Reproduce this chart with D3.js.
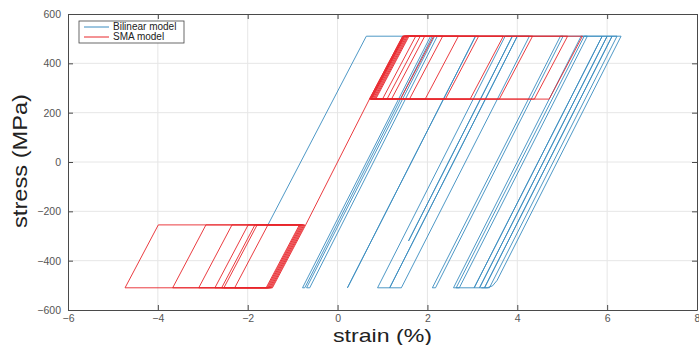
<!DOCTYPE html>
<html>
<head>
<meta charset="utf-8">
<script src="https://cdn.jsdelivr.net/npm/d3@7"></script>
<style>
  html, body { margin: 0; padding: 0; background: #ffffff; }
  svg { display: block; }
</style>
</head>
<body>
<svg id="chart" width="699" height="345"></svg>
<script>
// ---------- data ----------
const xTicks = [-6, -4, -2, 0, 2, 4, 6, 8];
const yTicks = [-600, -400, -200, 0, 200, 400, 600];
const seriesNames = ["Bilinear model", "SMA model"];
const seriesColors = ["#3a8cc0", "#e8262b"];

// Bilinear model: strain (%) / stress (MPa) turning points
const bilinearPath = [
  [-1.55, -255], [0.64, 510], [2.11, 510], [-0.73, -510], [-0.78, -510],
  [2.07, 510], [2.22, 510], [-0.62, -510], [-0.69, -510], [2.16, 510],
  [3.07, 510], [0.22, -510], [3.07, 510], [3.89, 510], [1.58, -320],
  [3.89, 510], [4.0, 510], [1.16, -510], [0.89, -510], [3.73, 510],
  [4.27, 510], [1.42, -510], [1.16, -510], [4.0, 510], [5.02, 510],
  [2.18, -510], [2.11, -510], [4.96, 510], [5.56, 510], [2.71, -510],
  [2.58, -510], [5.42, 510], [5.89, 510], [3.04, -510], [2.64, -510],
  [5.49, 510], [6.0, 510], [3.16, -510], [3.04, -510], [5.89, 510],
  [6.11, 510], [3.27, -510], [3.16, -510], [6.0, 510], [6.22, 510],
  [3.38, -510], [3.27, -510], [6.11, 510], [6.31, 510], [3.55, -480],
  [3.45, -502], [3.33, -510], [3.2, -510]
];

// SMA model: elastic branch through the origin
const smaCenterPath = [[-0.71, -255], [0.71, 255]];

// SMA model: tension flag (strain %, stress MPa)
const smaUpperPath = [
  [0.71, 255], [1.45, 510], [1.74, 510], [1.0, 255],
  [0.73, 255], [1.47, 510], [1.84, 510], [1.1, 255],
  [0.75, 255], [1.49, 510], [1.94, 510], [1.2, 255],
  [0.77, 255], [1.51, 510], [2.14, 510], [1.4, 255],
  [0.79, 255], [1.53, 510], [2.34, 510], [1.6, 255],
  [0.81, 255], [1.55, 510], [2.69, 510], [1.95, 255],
  [0.83, 255], [1.57, 510], [3.14, 510], [2.4, 255],
  [0.85, 255], [1.59, 510], [3.69, 510], [2.95, 255],
  [0.71, 255], [1.45, 510], [4.34, 510], [3.6, 255],
  [0.73, 255], [1.47, 510], [5.12, 510], [4.38, 255],
  [0.75, 255], [1.49, 510], [5.45, 510], [4.71, 255],
  [0.71, 255]
];

// SMA model: compression flag (strain %, stress MPa)
const smaLowerPath = [
  [-0.71, -255], [-1.45, -510], [-2.29, -510], [-1.55, -255],
  [-0.73, -255], [-1.47, -510], [-2.53, -510], [-1.79, -255],
  [-0.75, -255], [-1.49, -510], [-2.58, -510], [-1.84, -255],
  [-0.77, -255], [-1.51, -510], [-2.73, -510], [-1.99, -255],
  [-0.79, -255], [-1.53, -510], [-3.09, -510], [-2.35, -255],
  [-0.81, -255], [-1.55, -510], [-3.67, -510], [-2.93, -255],
  [-0.83, -255], [-1.57, -510], [-4.73, -510], [-3.99, -255],
  [-0.85, -255], [-1.59, -510]
];

// ---------- chart ----------
const svg = d3.select("#chart");
const mLeft = 68, mRight = 697, mTop = 14, mBottom = 310;
const font = "Liberation Sans, Arial, sans-serif";

const x = d3.scaleLinear().domain([-6, 8]).range([mLeft, mRight]);
const y = d3.scaleLinear().domain([-600, 600]).range([mBottom, mTop]);

// grid
const grid = svg.append("g");
grid.selectAll("line.gx").data(xTicks.slice(1, -1)).enter().append("line")
  .attr("x1", d => x(d)).attr("x2", d => x(d))
  .attr("y1", mTop).attr("y2", mBottom)
  .attr("stroke", "#e6e6e6").attr("stroke-width", 1);
grid.selectAll("line.gy").data(yTicks.slice(1, -1)).enter().append("line")
  .attr("x1", mLeft).attr("x2", mRight)
  .attr("y1", d => y(d)).attr("y2", d => y(d))
  .attr("stroke", "#e6e6e6").attr("stroke-width", 1);

// data lines
const line = d3.line().x(d => x(d[0])).y(d => y(d[1]));
svg.append("path").datum(bilinearPath)
  .attr("d", line).attr("fill", "none")
  .attr("stroke", seriesColors[0]).attr("stroke-width", 0.9)
  .attr("stroke-linejoin", "round");
[smaCenterPath, smaUpperPath, smaLowerPath].forEach(p => {
  svg.append("path").datum(p)
    .attr("d", line).attr("fill", "none")
    .attr("stroke", seriesColors[1]).attr("stroke-width", 0.9)
    .attr("stroke-linejoin", "round");
});

// axes (MATLAB-like, ticks inside)
const axColor = "#4a4a4a";
const tickLen = 5;
const xAxisB = d3.axisBottom(x).tickValues(xTicks).tickSize(-tickLen).tickSizeOuter(0).tickPadding(5);
const xAxisT = d3.axisTop(x).tickValues(xTicks).tickSize(-tickLen).tickSizeOuter(0).tickFormat("");
const yAxisL = d3.axisLeft(y).tickValues(yTicks).tickSize(-tickLen).tickSizeOuter(0).tickPadding(7);
const yAxisR = d3.axisRight(y).tickValues(yTicks).tickSize(-tickLen).tickSizeOuter(0).tickFormat("");

function styleAxis(g) {
  g.select(".domain").attr("stroke", axColor).attr("stroke-width", 1);
  g.selectAll(".tick line").attr("stroke", axColor);
  g.selectAll(".tick text").attr("fill", "#555555")
    .attr("font-family", font).attr("font-size", 10.5);
}
svg.append("g").attr("transform", `translate(0,${mBottom})`).call(xAxisB).call(styleAxis);
svg.append("g").attr("transform", `translate(0,${mTop})`).call(xAxisT).call(styleAxis);
svg.append("g").attr("transform", `translate(${mLeft},0)`).call(yAxisL).call(styleAxis);
svg.append("g").attr("transform", `translate(${mRight},0)`).call(yAxisR).call(styleAxis);

// axis labels
svg.append("text")
  .attr("x", 333).attr("y", 342)
  .attr("textLength", 99).attr("lengthAdjust", "spacingAndGlyphs")
  .attr("font-family", font)
  .attr("font-size", 19).attr("fill", "#222")
  .text("strain (%)");
svg.append("text")
  .attr("transform", `translate(27,228) rotate(-90)`)
  .attr("x", 0).attr("y", 0)
  .attr("textLength", 134).attr("lengthAdjust", "spacingAndGlyphs")
  .attr("font-family", font)
  .attr("font-size", 20).attr("fill", "#222")
  .text("stress (MPa)");

// legend
const lg = svg.append("g");
lg.append("rect").attr("x", 79).attr("y", 21).attr("width", 105).attr("height", 22)
  .attr("fill", "#ffffff").attr("stroke", "#444").attr("stroke-width", 0.8);
seriesNames.forEach((name, i) => {
  const yy = 27 + i * 10;
  lg.append("line").attr("x1", 84).attr("x2", 109).attr("y1", yy).attr("y2", yy)
    .attr("stroke", seriesColors[i]).attr("stroke-width", 1);
  lg.append("text").attr("x", 113).attr("y", yy + 3.4)
    .attr("font-family", font)
    .attr("font-size", 10).attr("fill", "#222").text(name);
});
</script>
</body>
</html>
